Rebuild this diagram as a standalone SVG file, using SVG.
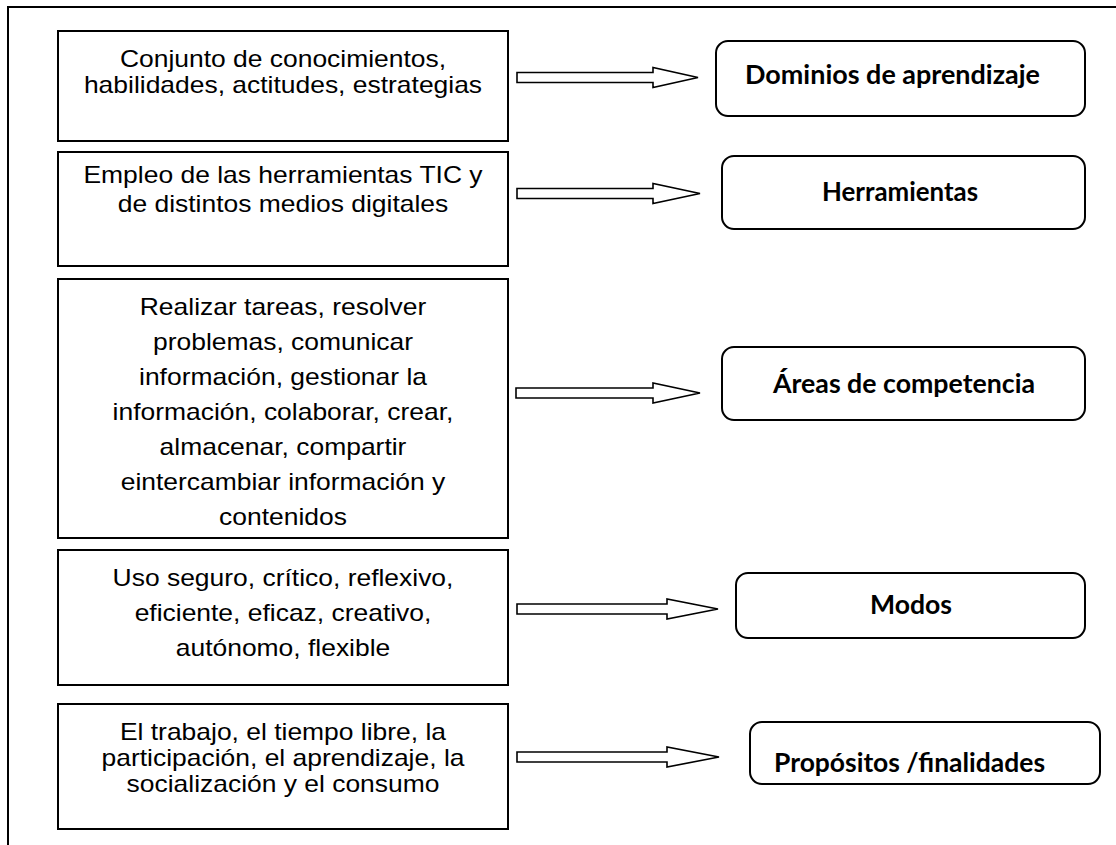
<svg xmlns="http://www.w3.org/2000/svg" width="1116" height="845" viewBox="0 0 1116 845">
<style>
.frame{fill:none;stroke:#000;stroke-width:2}
.lbox{fill:#fff;stroke:#000;stroke-width:2}
.rbox{fill:#fff;stroke:#000;stroke-width:2}
.arrow{fill:#fff;stroke:#000;stroke-width:1.6;stroke-linejoin:miter}
.lt{font-family:"Liberation Sans",Arial,sans-serif;font-size:23px;fill:#000;text-anchor:middle}
.rt{font-family:Lato,"Open Sans",sans-serif;font-weight:bold;font-size:26px;fill:#000}
</style>
<rect width="1116" height="845" fill="#fff"/>
<g id="frame">
<path class="frame" d="M8,845 V7 H1116"/>
</g>
<g id="n1">
<rect class="lbox" x="58" y="31" width="450" height="110"/>
<text class="lt" transform="matrix(1.15,0,0,1,283,0)"><tspan x="0" y="67">Conjunto de conocimientos,</tspan><tspan x="0" y="93">habilidades, actitudes, estrategias</tspan></text>
</g>
<g id="n2">
<rect class="lbox" x="58" y="152" width="450" height="114"/>
<text class="lt" transform="matrix(1.15,0,0,1,283,0)"><tspan x="0" y="183">Empleo de las herramientas TIC y</tspan><tspan x="0" y="212">de distintos medios digitales</tspan></text>
</g>
<g id="n3">
<rect class="lbox" x="58" y="279" width="450" height="259"/>
<text class="lt" transform="matrix(1.15,0,0,1,283,0)"><tspan x="0" y="315">Realizar tareas, resolver</tspan><tspan x="0" y="350">problemas, comunicar</tspan><tspan x="0" y="385">información, gestionar la</tspan><tspan x="0" y="420">información, colaborar, crear,</tspan><tspan x="0" y="455">almacenar, compartir</tspan><tspan x="0" y="490">eintercambiar información y</tspan><tspan x="0" y="525">contenidos</tspan></text>
</g>
<g id="n4">
<rect class="lbox" x="58" y="550" width="450" height="135"/>
<text class="lt" transform="matrix(1.15,0,0,1,283,0)"><tspan x="0" y="586">Uso seguro, crítico, reflexivo,</tspan><tspan x="0" y="621">eficiente, eficaz, creativo,</tspan><tspan x="0" y="656">autónomo, flexible</tspan></text>
</g>
<g id="n5">
<rect class="lbox" x="58" y="704" width="450" height="125"/>
<text class="lt" transform="matrix(1.15,0,0,1,283,0)"><tspan x="0" y="740">El trabajo, el tiempo libre, la</tspan><tspan x="0" y="766">participación, el aprendizaje, la</tspan><tspan x="0" y="792">socialización y el consumo</tspan></text>
</g>
<g id="r1">
<rect class="rbox" x="716" y="41" width="369" height="75" rx="12"/>
<text class="rt" x="745" y="84" textLength="295" lengthAdjust="spacingAndGlyphs">Dominios de aprendizaje</text>
</g>
<g id="r2">
<rect class="rbox" x="722" y="156" width="363" height="73" rx="12"/>
<text class="rt" x="822" y="201" textLength="156" lengthAdjust="spacingAndGlyphs">Herramientas</text>
</g>
<g id="r3">
<rect class="rbox" x="722" y="347" width="363" height="73" rx="12"/>
<text class="rt" x="773" y="393" textLength="262" lengthAdjust="spacingAndGlyphs">Áreas de competencia</text>
</g>
<g id="r4">
<rect class="rbox" x="736" y="573" width="349" height="65" rx="12"/>
<text class="rt" x="870" y="614" textLength="82" lengthAdjust="spacingAndGlyphs">Modos</text>
</g>
<g id="r5">
<rect class="rbox" x="750" y="722" width="350" height="62" rx="12"/>
<text class="rt" x="774" y="772" textLength="271" lengthAdjust="spacingAndGlyphs">Propósitos /finalidades</text>
</g>
<g id="connectors">
<path class="arrow" d="M517,72.5 H653 V67.5 L698,77.5 L653,87.5 V82.5 H517 Z"/>
<path class="arrow" d="M517,188.5 H653 V183.5 L700,193.5 L653,203.5 V198.5 H517 Z"/>
<path class="arrow" d="M516,388 H653 V383 L700,393 L653,403 V398 H516 Z"/>
<path class="arrow" d="M517,604 H667 V599 L718,609 L667,619 V614 H517 Z"/>
<path class="arrow" d="M517,752 H667 V747 L719,757 L667,767 V762 H517 Z"/>
</g>
</svg>
